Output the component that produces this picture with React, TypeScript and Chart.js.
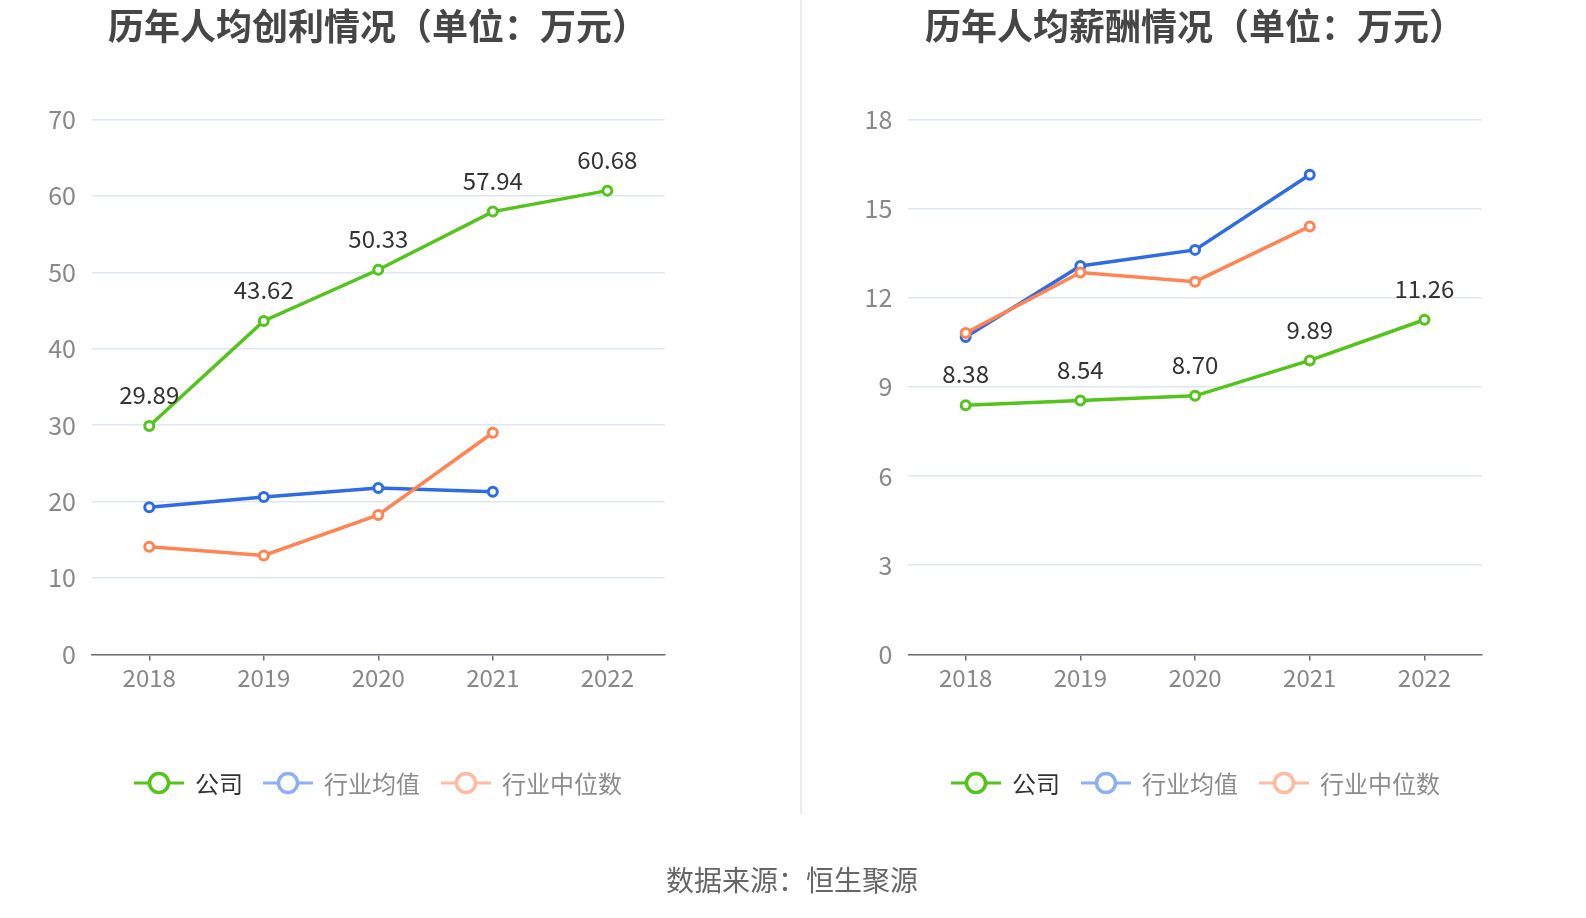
import React, { useEffect, useRef } from "react";
import { Chart, registerables } from "chart.js";

Chart.register(...registerables);

const years = ["2018", "2019", "2020", "2021", "2022"];

const profitCompany = [29.89, 43.62, 50.33, 57.94, 60.68];
const profitMean = [19.25, 20.58, 21.76, 21.28, null];
const profitMedian = [14.08, 12.95, 18.25, 29.0, null];
const profitMax = 70;
const profitStep = 10;

const salaryCompany = [8.38, 8.54, 8.7, 9.89, 11.26];
const salaryMean = [10.68, 13.07, 13.61, 16.14, null];
const salaryMedian = [10.81, 12.85, 12.54, 14.4, null];
const salaryMax = 18;
const salaryStep = 3;

const seriesNames = ["公司", "行业均值", "行业中位数"];
const titles = ["历年人均创利情况（单位：万元）", "历年人均薪酬情况（单位：万元）"];
const sourceText = "数据来源：恒生聚源";

const GREEN = "#52C41A";
const BLUE = "#2E6BE6";
const ORANGE = "#FF8452";
const FONT = "'Noto Sans CJK SC', 'Noto Sans', sans-serif";

const W = 1586;
const H = 918;

const labelPlugin = {
  id: "companyLabels",
  afterDatasetsDraw(chart: any) {
    const ctx = chart.ctx;
    const meta = chart.getDatasetMeta(0);
    const data = chart.data.datasets[0].data;
    ctx.save();
    ctx.font = `24px ${FONT}`;
    ctx.fillStyle = "#333333";
    ctx.textAlign = "center";
    ctx.textBaseline = "middle";
    meta.data.forEach((pt: any, i: number) => {
      const v = data[i];
      if (v == null) return;
      ctx.fillText(Number(v).toFixed(2), pt.x, pt.y - 31);
    });
    ctx.restore();
  },
};

function makeDataset(label: string, data: any[], color: string) {
  return {
    label,
    data,
    borderColor: color,
    backgroundColor: "#ffffff",
    borderWidth: 3.5,
    pointRadius: 4.5,
    pointBorderWidth: 3,
    pointBackgroundColor: "#ffffff",
    pointBorderColor: color,
    tension: 0,
    spanGaps: false,
  };
}

function LineChart(props: {
  company: number[];
  mean: any[];
  median: any[];
  max: number;
  step: number;
  left: number;
  right: number;
}) {
  const ref = useRef<HTMLCanvasElement>(null);
  useEffect(() => {
    const canvas = ref.current!;
    const top = 119.4;
    const bottom = 654.4;
    const yW = 60;
    const xH = 40;
    const chart = new Chart(canvas, {
      type: "line",
      data: {
        labels: years,
        datasets: [
          makeDataset(seriesNames[0], props.company, GREEN),
          makeDataset(seriesNames[2], props.median, ORANGE),
          makeDataset(seriesNames[1], props.mean, BLUE),
        ],
      },
      plugins: [labelPlugin],
      options: {
        animation: false,
        responsive: false,
        devicePixelRatio: 1,
        events: [],
        layout: {
          padding: {
            left: props.left - yW,
            right: W - props.right,
            top: top,
            bottom: H - bottom - xH,
          },
        },
        plugins: {
          legend: { display: false },
          title: { display: false },
          tooltip: { enabled: false },
        },
        scales: {
          x: {
            type: "category",
            offset: true,
            afterFit(scale: any) {
              scale.height = xH;
            },
            border: { display: true, color: "#6E7079", width: 1.5 },
            grid: {
              display: true,
              drawOnChartArea: false,
              drawTicks: true,
              tickLength: 6,
              color: "#6E7079",
              lineWidth: 1.5,
              offset: false,
            },
            ticks: {
              color: "#888888",
              font: { size: 24, family: FONT },
              padding: 3,
              maxRotation: 0,
            },
          },
          y: {
            min: 0,
            max: props.max,
            afterFit(scale: any) {
              scale.width = yW;
            },
            border: { display: false },
            grid: {
              color: "#E0E6F1",
              lineWidth: 1.5,
              drawTicks: false,
            },
            ticks: {
              stepSize: props.step,
              color: "#888888",
              font: { size: 25, family: FONT },
              padding: 16,
            },
          },
        },
      },
    });
    return () => chart.destroy();
  }, []);
  return (
    <canvas
      ref={ref}
      width={W}
      height={H}
      style={{ position: "absolute", left: 0, top: 0, width: W, height: H }}
    />
  );
}

function LegendIcon(props: { color: string }) {
  return (
    <svg width={50} height={26} style={{ display: "block" }}>
      <line x1={0} y1={13} x2={50} y2={13} stroke={props.color} strokeWidth={3} />
      <circle cx={25} cy={13} r={9.5} fill="#ffffff" stroke={props.color} strokeWidth={3.5} />
    </svg>
  );
}

function Legend(props: { positions: number[] }) {
  const items = [
    { name: seriesNames[0], icon: GREEN, text: "#333333" },
    { name: seriesNames[1], icon: "#8DB0F2", text: "#8c8c8c" },
    { name: seriesNames[2], icon: "#FFBBA1", text: "#8c8c8c" },
  ];
  return (
    <>
      {items.map((it, i) => (
        <div
          key={i}
          style={{
            position: "absolute",
            left: props.positions[i],
            top: 783 - 16,
            height: 32,
            display: "flex",
            alignItems: "center",
            whiteSpace: "nowrap",
          }}
        >
          <LegendIcon color={it.icon} />
          <span
            style={{
              marginLeft: 11,
              fontSize: 24,
              color: it.text,
              fontFamily: FONT,
              lineHeight: "32px",
            }}
          >
            {it.name}
          </span>
        </div>
      ))}
    </>
  );
}

const titleStyle: any = {
  position: "absolute",
  width: 700,
  top: 1,
  textAlign: "center",
  fontSize: 36,
  fontWeight: "bold",
  color: "#464646",
  lineHeight: "46px",
};

export default function App() {
  return (
    <div
      style={{
        position: "absolute",
        left: 0,
        top: 0,
        width: W,
        height: H,
        background: "#ffffff",
        overflow: "hidden",
        fontFamily: FONT,
      }}
    >
      <LineChart
        company={profitCompany}
        mean={profitMean}
        median={profitMedian}
        max={profitMax}
        step={profitStep}
        left={92}
        right={664.6}
      />
      <LineChart
        company={salaryCompany}
        mean={salaryMean}
        median={salaryMedian}
        max={salaryMax}
        step={salaryStep}
        left={908.3}
        right={1481.8}
      />
      <div
        style={{
          position: "absolute",
          left: 800,
          top: 0,
          width: 1.5,
          height: 814,
          background: "#EBEBEB",
        }}
      />
      <div style={{ ...titleStyle, left: 378 - 350 }}>{titles[0]}</div>
      <div style={{ ...titleStyle, left: 1195 - 350 }}>{titles[1]}</div>
      <Legend positions={[134, 263, 441]} />
      <Legend positions={[951, 1081, 1259]} />
      <div
        style={{
          position: "absolute",
          left: 792 - 300,
          width: 600,
          top: 879 - 19,
          textAlign: "center",
          fontSize: 28,
          color: "#666666",
          lineHeight: "38px",
        }}
      >
        {sourceText}
      </div>
    </div>
  );
}
